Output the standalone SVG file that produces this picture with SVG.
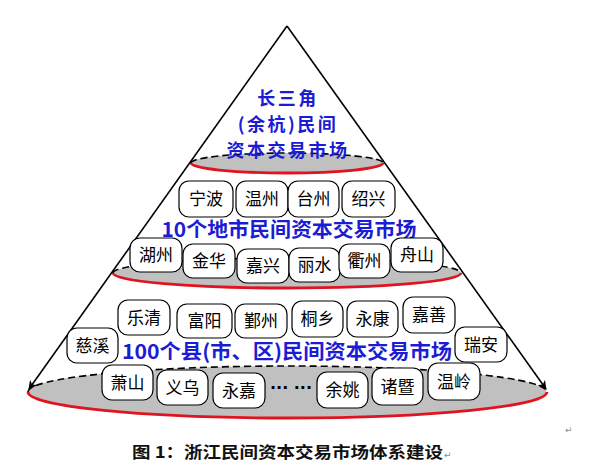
<svg xmlns="http://www.w3.org/2000/svg" width="594" height="471" viewBox="0 0 594 471">
<defs>
<style>
.ell{fill:#c0c0c0;stroke:none}
.top{fill:none;stroke:#000;stroke-width:1.6;stroke-dasharray:7,4}
.bot{fill:none;stroke:#e0141e;stroke-width:2.8}
.edge{stroke:#000;stroke-width:1.6;fill:none}
.box rect{fill:#fff;stroke:#000;stroke-width:1.2}
.box text{font-family:"Noto Sans CJK SC","Noto Sans",sans-serif;font-size:17px;fill:#000;text-anchor:middle}
.blue{font-family:"Noto Sans CJK SC","Liberation Sans",sans-serif;font-size:20px;font-weight:bold;fill:#1c1cd4;text-anchor:middle}
.blue2{font-family:"Noto Sans CJK SC","Liberation Sans",sans-serif;font-size:18px;font-weight:bold;fill:#1c1cd4;text-anchor:middle;letter-spacing:2.5px}
</style>
<marker id="ah" viewBox="0 0 10 10" refX="9" refY="5" markerWidth="9" markerHeight="9" orient="auto" markerUnits="userSpaceOnUse">
<path d="M0,0 L10,5 L0,10 L3,5 z" fill="#000"/>
</marker>
</defs>
<rect width="594" height="471" fill="#fff"/>

<g id="levels">
<ellipse class="ell" cx="287" cy="392" rx="259.5" ry="26"/>
<path class="top" d="M28,392 A259.5,26 0 0 1 547,392"/>
<path class="bot" d="M28,392 A259.5,26 0 0 0 547,392"/>
<ellipse class="ell" cx="287" cy="273" rx="174" ry="15"/>
<path class="top" d="M113,273 A174,15 0 0 1 461,273"/>
<path class="bot" d="M113,273 A174,15 0 0 0 461,273"/>
<ellipse class="ell" cx="287" cy="163" rx="96" ry="10"/>
<path class="top" d="M191,163 A96,10 0 0 1 383,163"/>
<path class="bot" d="M191,163 A96,10 0 0 0 383,163"/>
</g>

<g id="connectors">
<line class="edge" x1="287" y1="26" x2="29" y2="389" marker-end="url(#ah)"/>
<line class="edge" x1="287" y1="26" x2="546" y2="389" marker-end="url(#ah)"/>
</g>

<g id="top-label">
<text class="blue2" x="288" y="104.5">长三角</text>
<text class="blue2" x="288" y="130.5">(余杭)民间</text>
<text class="blue2" x="288" y="156.5">资本交易市场</text>
</g>

<g id="mid-label"><text class="blue" x="289" y="237" textLength="255" lengthAdjust="spacingAndGlyphs">10个地市民间资本交易市场</text></g>
<g id="bot-label"><text class="blue" x="287" y="359" textLength="330" lengthAdjust="spacingAndGlyphs">100个县(市、区)民间资本交易市场</text></g>

<g id="n-ningbo" class="box"><rect x="179" y="181" width="54" height="36" rx="10"/><text x="206" y="205">宁波</text></g>
<g id="n-wenzhou" class="box"><rect x="236" y="181" width="52" height="36" rx="10"/><text x="262" y="205">温州</text></g>
<g id="n-taizhou" class="box"><rect x="288" y="181" width="51" height="36" rx="10"/><text x="313.5" y="205">台州</text></g>
<g id="n-shaoxing" class="box"><rect x="342" y="181" width="53" height="36" rx="10"/><text x="368.5" y="205">绍兴</text></g>

<g id="n-huzhou" class="box"><rect x="130" y="238" width="52" height="34" rx="10"/><text x="156" y="261">湖州</text></g>
<g id="n-jinhua" class="box"><rect x="183" y="244" width="52" height="34" rx="10"/><text x="209" y="267">金华</text></g>
<g id="n-jiaxing" class="box"><rect x="237" y="249" width="52" height="34" rx="10"/><text x="263" y="272">嘉兴</text></g>
<g id="n-lishui" class="box"><rect x="289" y="248" width="51" height="34" rx="10"/><text x="314.5" y="271">丽水</text></g>
<g id="n-quzhou" class="box"><rect x="339" y="244" width="51" height="34" rx="10"/><text x="364.5" y="267">衢州</text></g>
<g id="n-zhoushan" class="box"><rect x="391" y="238" width="52" height="34" rx="10"/><text x="417" y="261">舟山</text></g>

<g id="n-yueqing" class="box"><rect x="118" y="300" width="52" height="35" rx="10"/><text x="144" y="323.5">乐清</text></g>
<g id="n-fuyang" class="box"><rect x="177" y="304" width="55" height="34" rx="10"/><text x="204.5" y="327">富阳</text></g>
<g id="n-yinzhou" class="box"><rect x="235" y="304" width="52" height="34" rx="10"/><text x="261" y="327">鄞州</text></g>
<g id="n-tongxiang" class="box"><rect x="292" y="301" width="51" height="36" rx="10"/><text x="317.5" y="325">桐乡</text></g>
<g id="n-yongkang" class="box"><rect x="347" y="301" width="51" height="36" rx="10"/><text x="372.5" y="325">永康</text></g>
<g id="n-jiashan" class="box"><rect x="403" y="297" width="52" height="36" rx="10"/><text x="429" y="321">嘉善</text></g>
<g id="n-cixi" class="box"><rect x="67" y="328" width="51" height="35" rx="10"/><text x="92.5" y="351.5">慈溪</text></g>
<g id="n-ruian" class="box"><rect x="455" y="327" width="52" height="35" rx="10"/><text x="481" y="350.5">瑞安</text></g>

<g id="n-xiaoshan" class="box"><rect x="102" y="365" width="51" height="35" rx="10"/><text x="127.5" y="388.5">萧山</text></g>
<g id="n-yiwu" class="box"><rect x="157" y="370" width="51" height="35" rx="10"/><text x="182.5" y="393.5">义乌</text></g>
<g id="n-yongjia" class="box"><rect x="213" y="373" width="52" height="35" rx="10"/><text x="239" y="396.5">永嘉</text></g>
<g id="n-dots"><text x="291" y="393" font-family="DejaVu Sans,sans-serif" font-size="16" font-weight="bold" text-anchor="middle" fill="#000">··· ···</text></g>
<g id="n-yuyao" class="box"><rect x="317" y="372" width="51" height="36" rx="10"/><text x="342.5" y="396">余姚</text></g>
<g id="n-zhuji" class="box"><rect x="372" y="368" width="51" height="37" rx="10"/><text x="397.5" y="392.5">诸暨</text></g>
<g id="n-wenling" class="box"><rect x="428" y="363" width="52" height="37" rx="10"/><text x="454" y="387.5">温岭</text></g>

<g id="caption">
<text x="132" y="458" font-family="Noto Sans CJK SC,sans-serif" font-size="16" font-weight="bold" fill="#111" textLength="311" lengthAdjust="spacingAndGlyphs">图 1：浙江民间资本交易市场体系建设</text>
<text x="444" y="458" font-family="DejaVu Sans,sans-serif" font-size="9" fill="#888">↵</text>
<text x="565" y="433" font-family="DejaVu Sans,sans-serif" font-size="9" fill="#888">↵</text>
</g>
</svg>
